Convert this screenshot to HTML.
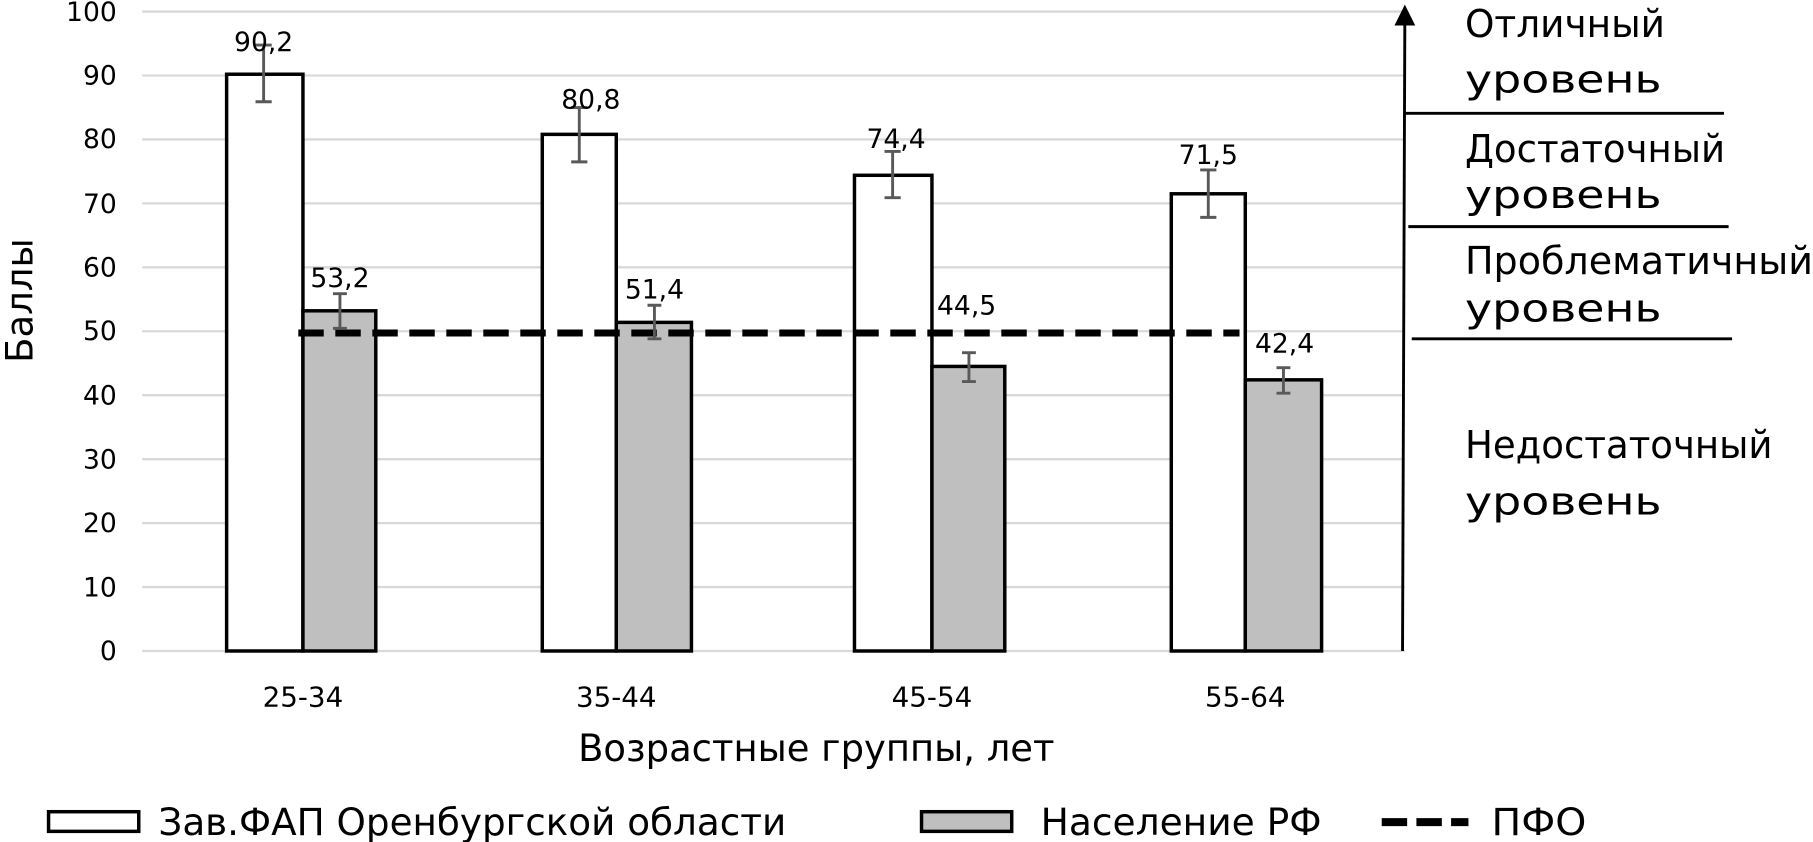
<!DOCTYPE html>
<html><head><meta charset="utf-8"><style>
html,body{margin:0;padding:0;background:#fff;}
svg{display:block;}
text{font-family:"DejaVu Sans","Liberation Sans",sans-serif;fill:#000;}
</style></head><body>
<svg width="1813" height="842" viewBox="0 0 1568 728.2" preserveAspectRatio="none" xmlns="http://www.w3.org/2000/svg">
<g stroke="#d9d9d9" stroke-width="2">
<line x1="123" x2="1215" y1="10" y2="10"/>
<line x1="123" x2="1215" y1="65.3" y2="65.3"/>
<line x1="123" x2="1215" y1="120.6" y2="120.6"/>
<line x1="123" x2="1215" y1="175.9" y2="175.9"/>
<line x1="123" x2="1215" y1="231.2" y2="231.2"/>
<line x1="123" x2="1215" y1="286.5" y2="286.5"/>
<line x1="123" x2="1215" y1="341.8" y2="341.8"/>
<line x1="123" x2="1215" y1="397.1" y2="397.1"/>
<line x1="123" x2="1215" y1="452.4" y2="452.4"/>
<line x1="123" x2="1215" y1="507.7" y2="507.7"/>
<line x1="123" x2="1215" y1="563" y2="563"/>
</g>
<g font-size="23" text-anchor="end">
<text x="101" y="18">100</text><text x="101" y="73">90</text><text x="101" y="128">80</text>
<text x="101" y="184">70</text><text x="101" y="239">60</text><text x="101" y="294">50</text>
<text x="101" y="350">40</text><text x="101" y="405">30</text><text x="101" y="460">20</text>
<text x="101" y="516">10</text><text x="101" y="571">0</text>
</g>
<g stroke="#000" stroke-width="3">
<rect x="196" y="64.2" width="66" height="498.8" fill="#fff"/>
<rect x="262" y="268.8" width="63" height="294.2" fill="#bfbfbf"/>
<rect x="469" y="116.2" width="64" height="446.8" fill="#fff"/>
<rect x="533" y="278.8" width="65" height="284.2" fill="#bfbfbf"/>
<rect x="739" y="151.6" width="67" height="411.4" fill="#fff"/>
<rect x="806" y="316.9" width="63" height="246.1" fill="#bfbfbf"/>
<rect x="1013" y="167.6" width="64" height="395.4" fill="#fff"/>
<rect x="1077" y="328.5" width="66" height="234.5" fill="#bfbfbf"/>
</g>
<line x1="258" x2="1072" y1="288" y2="288" stroke="#000" stroke-width="6" stroke-dasharray="22,10"/>
<g stroke="#595959" stroke-width="2.5">
<path d="M228 39v49M221 39h14M221 88h14"/>
<path d="M294 254v30M288 254h12M288 284h12"/>
<path d="M501 93v47M494 93h14M494 140h14"/>
<path d="M566 264v29M560 264h12M560 293h12"/>
<path d="M772 131v40M765 131h14M765 171h14"/>
<path d="M838 305v25M832 305h12M832 330h12"/>
<path d="M1045 147v41M1038 147h14M1038 188h14"/>
<path d="M1110 318v22M1104 318h12M1104 340h12"/>
</g>
<g font-size="23" text-anchor="middle">
<text x="228" y="44">90,2</text><text x="294" y="248">53,2</text>
<text x="511" y="94">80,8</text><text x="566" y="258">51,4</text>
<text x="775" y="128">74,4</text><text x="836" y="272">44,5</text>
<text x="1045" y="142">71,5</text><text x="1111" y="305">42,4</text>
</g>
<g font-size="24" text-anchor="middle">
<text x="262" y="611">25-34</text><text x="533" y="611">35-44</text>
<text x="806" y="611">45-54</text><text x="1077" y="611">55-64</text>
</g>
<text x="500" y="658" font-size="32" textLength="412" lengthAdjust="spacingAndGlyphs">Возрастные группы, лет</text>
<text transform="translate(28,260) rotate(-90)" font-size="32" text-anchor="middle">Баллы</text>
<g stroke="#000" stroke-width="2.5">
<line x1="1213" y1="563" x2="1215" y2="16"/>
<line x1="1215" y1="98" x2="1491" y2="98"/>
<line x1="1218" y1="196" x2="1495" y2="196"/>
<line x1="1221" y1="293" x2="1498" y2="293"/>
</g>
<polygon points="1215,4 1206,22 1224,22" fill="#000"/>
<g font-size="33">
<text x="1267" y="32" textLength="173" lengthAdjust="spacingAndGlyphs">Отличный</text><text x="1267" y="80" textLength="170" lengthAdjust="spacingAndGlyphs">уровень</text>
<text x="1267" y="140" textLength="225" lengthAdjust="spacingAndGlyphs">Достаточный</text><text x="1267" y="180" textLength="170" lengthAdjust="spacingAndGlyphs">уровень</text>
<text x="1267" y="237" textLength="301" lengthAdjust="spacingAndGlyphs">Проблематичный</text><text x="1267" y="278" textLength="170" lengthAdjust="spacingAndGlyphs">уровень</text>
<text x="1267" y="396" textLength="266" lengthAdjust="spacingAndGlyphs">Недостаточный</text><text x="1267" y="445" textLength="170" lengthAdjust="spacingAndGlyphs">уровень</text>
</g>
<rect x="42" y="702" width="78" height="17" fill="#fff" stroke="#000" stroke-width="3"/>
<text x="137" y="722" font-size="32" textLength="543" lengthAdjust="spacingAndGlyphs">Зав.ФАП Оренбургской области</text>
<rect x="797" y="702" width="78" height="17" fill="#bfbfbf" stroke="#000" stroke-width="3"/>
<text x="900" y="722" font-size="32" textLength="243" lengthAdjust="spacingAndGlyphs">Население РФ</text>
<line x1="1195" x2="1270" y1="711" y2="711" stroke="#000" stroke-width="7" stroke-dasharray="22,8"/>
<text x="1290" y="722" font-size="32" textLength="82" lengthAdjust="spacingAndGlyphs">ПФО</text>
</svg>
</body></html>
